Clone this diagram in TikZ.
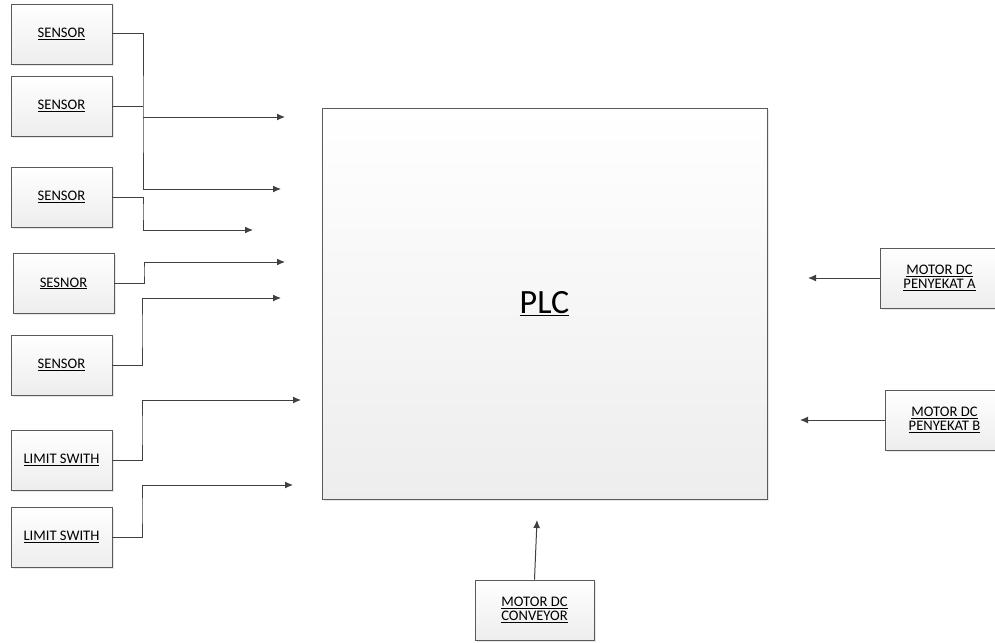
\documentclass[tikz,border=0pt]{standalone}
\usepackage{fontspec}
\setmainfont{Carlito}
\usetikzlibrary{arrows.meta,shadows}

\definecolor{linegray}{HTML}{404040}
\definecolor{boxgray}{HTML}{5A5A5A}

\tikzset{
  block/.style={draw=boxgray, line width=0.9pt, top color=white, bottom color=black!7,
    minimum width=101pt, minimum height=60pt, inner sep=0pt, align=center,
    font=\fontsize{14.6}{14.5}\selectfont,
    drop shadow={opacity=0.18, shadow xshift=1.5pt, shadow yshift=-1.5pt}},
  motorbox/.style={block, minimum width=119pt},
  wire/.style={draw=linegray, line width=1pt},
  arrow/.style={wire, -{Latex[length=8pt,width=7pt]}}
}

\begin{document}
\begin{tikzpicture}[x=1pt, y=-1pt]
      \useasboundingbox (0,0) rectangle (995,642);

      % PLC
      \node [block, minimum width=445pt, minimum height=391pt,
        font=\fontsize{34}{40}\selectfont] (plc) at (544.5,303.5) {\underline{PLC}};

      % inputs on the left
      \node [block] (s1) at (61.5,34) {\underline{SENSOR}};
      \node [block] (s2) at (61.5,106) {\underline{SENSOR}};
      \node [block] (s3) at (61.5,197) {\underline{SENSOR}};
      \node [block] (s4) at (63.5,283.5) {\underline{SESNOR}};
      \node [block] (s5) at (61.5,365) {\underline{SENSOR}};
      \node [block] (ls1) at (61.5,460) {\underline{LIMIT SWITH}};
      \node [block] (ls2) at (61.5,537) {\underline{LIMIT SWITH}};

      % outputs
      \node [motorbox] (ma) at (939.5,278) {\underline{MOTOR DC}\\\underline{PENYEKAT A}};
      \node [motorbox] (mb) at (944.5,420) {\underline{MOTOR DC}\\\underline{PENYEKAT B}};
      \node [motorbox] (mc) at (534.5,610) {\underline{MOTOR DC}\\\underline{CONVEYOR}};

      % free ends of the arrows
      \coordinate (j1) at (143,117);
      \coordinate (in1) at (285,117);
      \coordinate (in2) at (281,189);
      \coordinate (in3) at (253,230);
      \coordinate (in4) at (285,262);
      \coordinate (in5) at (281,298);
      \coordinate (in6) at (301,400);
      \coordinate (in7) at (293,485);
      \coordinate (outa) at (808,278);
      \coordinate (outb) at (800,420);
      \coordinate (outc) at (537,520);

      \draw [arrow] (s1.east) -| (j1) |- (in2);
      \draw [arrow] (j1) -- (in1);
      \draw [wire] (s2.east) -- (s2.east -| j1);
      \draw [arrow] (s3.east) -| (143,210) |- (in3);
      \draw [arrow] (s4.east) -| (144,270) |- (in4);
      \draw [arrow] (s5.east) -| (142,330) |- (in5);
      \draw [arrow] (ls1.east) -| (142,430) |- (in6);
      \draw [arrow] (ls2.east) -| (142,510) |- (in7);

      \draw [arrow] (ma.west) -- (outa);
      \draw [arrow] (mb.west) -- (outb);
      \draw [arrow] (mc.north) -- (outc);
\end{tikzpicture}
\end{document}
